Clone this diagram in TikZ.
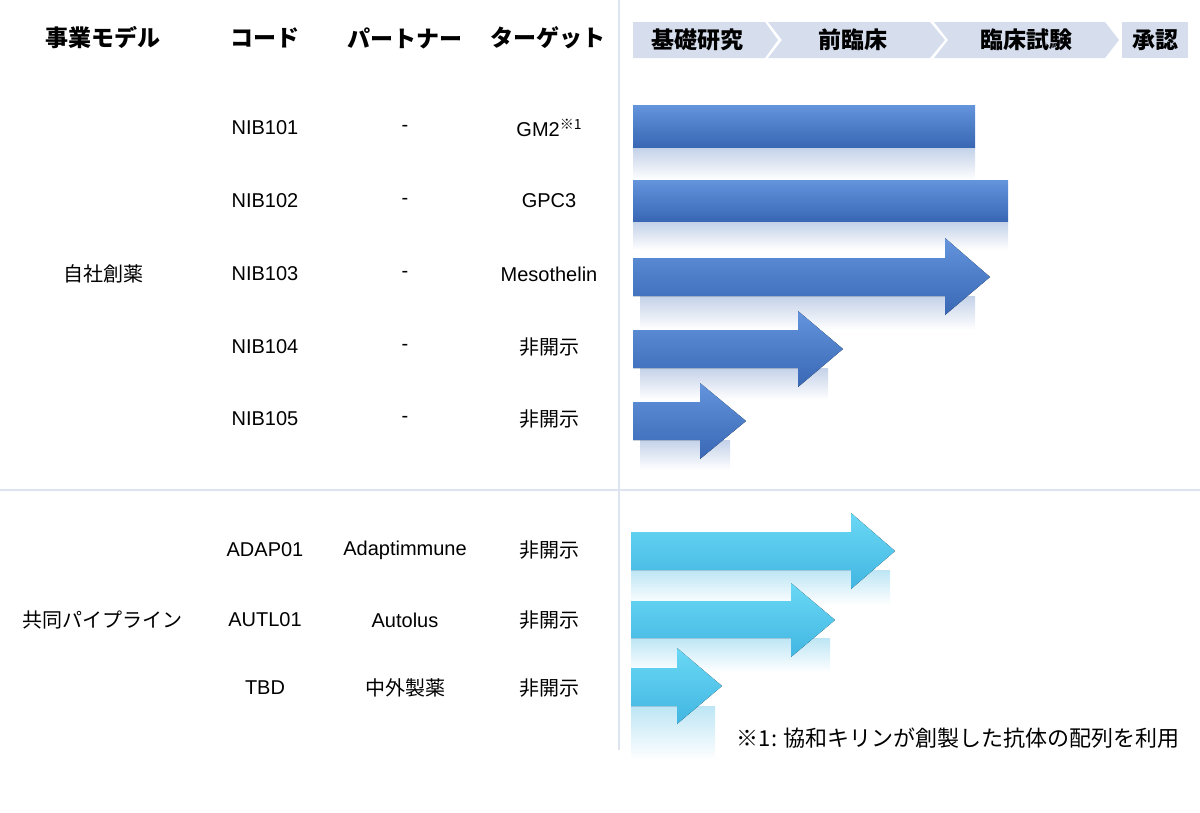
\documentclass[tikz,border=0pt]{standalone}
\usepackage{fontspec}
\setmainfont{Liberation Sans}
\newfontfamily\jp{Noto Sans CJK JP}
\usetikzlibrary{shadings}
\definecolor{phase}{HTML}{D6DEEE}
\definecolor{bluetop}{HTML}{6394DC}
\definecolor{bluebot}{HTML}{3967B4}
\definecolor{cyantop}{HTML}{6AD8F5}
\definecolor{cyanbot}{HTML}{42B6E2}
\definecolor{gridc}{HTML}{DDE3EF}
\tikzset{
  txt/.style={font=\fontsize{20}{24}\selectfont, inner sep=0pt, anchor=center},
  hdr/.style={font=\fontsize{23}{27}\selectfont\jp\bfseries, inner sep=0pt},
  ph/.style={fill=phase, draw=none},
  bluebar/.style={top color=bluetop, bottom color=bluebot, draw=none},
  cyanbar/.style={top color=cyantop, bottom color=cyanbot, draw=none},
  glowb/.style={top color=bluebot!30, bottom color=white, draw=none},
  glowc/.style={top color=cyanbot!35, bottom color=white, draw=none}
}
\begin{document}
\begin{tikzpicture}[x=1pt,y=-1pt]
\useasboundingbox (0,0) rectangle (1200,812);
% grid lines
\draw[gridc, line width=2.5pt] (619,0) -- (619,750);
\draw[gridc, line width=2pt] (0,490) -- (1200,490);
% phase header
\fill[ph] (633,22) -- (765,22) -- (778,40) -- (765,58) -- (633,58) -- cycle;
\fill[ph] (768,22) -- (930,22) -- (945,40) -- (930,58) -- (768,58) -- (782,40) -- cycle;
\fill[ph] (934,22) -- (1105,22) -- (1119,40) -- (1105,58) -- (934,58) -- (948,40) -- cycle;
\fill[ph] (1122,22) rectangle (1188,58);
\node[hdr] (p1) at (697,40) {基礎研究};
\node[hdr] (p2) at (853,40) {前臨床};
\node[hdr] (p3) at (1026,40) {臨床試験};
\node[hdr] (p4) at (1155,40) {承認};
% column headers
\node[hdr] (h1) at (103,38) {事業モデル};
\node[hdr] (h2) at (265,38) {コード};
\node[hdr] (h3) at (405,38) {パートナー};
\node[hdr] (h4) at (548,38) {ターゲット};
% rows
\node[txt] (m1) at (103,274) {\jp 自社創薬};
\node[txt] (m2) at (103,620) {\jp 共同パイプライン};
\foreach \y/\c/\p/\t [count=\i] in {128/NIB101/-/{GM2\raisebox{7pt}{\fontsize{14}{14}\selectfont\jp ※1}},201/NIB102/-/GPC3,274/NIB103/-/Mesothelin,347/NIB104/-/{\jp 非開示},419/NIB105/-/{\jp 非開示},550/ADAP01/Adaptimmune/{\jp 非開示},620/AUTL01/Autolus/{\jp 非開示},688/TBD/{\jp 中外製薬}/{\jp 非開示}}{
  \node[txt] (c\i) at (265,\y) {\c};
  \node[txt] (q\i) at (405,\y) {\p};
  \node[txt] (t\i) at (549,\y) {\t};
}
% glows
\fill[glowb] (633,148) rectangle (975,180);
\fill[glowb] (633,222) rectangle (1008,250);
\foreach \a/\b/\t in {296/975/330,368/828/400,440/730/470}{\fill[glowb] (640,\a) rectangle (\b,\t);}
\foreach \a/\b/\t in {570/890/605,638/830/672,706/715/760}{\fill[glowc] (631,\a) rectangle (\b,\t);}
% blue bars
\fill[bluebar] (633,105) rectangle (975,147);
\fill[bluebar] (633,180) rectangle (1008,221);
\fill[bluebar] (633,258) -- (945,258) -- (945,238) -- (990,277) -- (945,315) -- (945,296) -- (633,296) -- cycle;
\fill[bluebar] (633,330) -- (798,330) -- (798,311) -- (843,349) -- (798,387) -- (798,368) -- (633,368) -- cycle;
\fill[bluebar] (633,402) -- (700,402) -- (700,383) -- (746,421) -- (700,459) -- (700,440) -- (633,440) -- cycle;
% cyan arrows
\fill[cyanbar] (631,532) -- (851,532) -- (851,513) -- (895,551) -- (851,589) -- (851,570) -- (631,570) -- cycle;
\fill[cyanbar] (631,601) -- (791,601) -- (791,583) -- (835,620) -- (791,657) -- (791,638) -- (631,638) -- cycle;
\fill[cyanbar] (631,668) -- (677,668) -- (677,648) -- (722,686) -- (677,724) -- (677,706) -- (631,706) -- cycle;
% footnote
\node[txt, anchor=east, font=\fontsize{22}{26}\selectfont] (fn) at (1180,738) {\jp ※1: 協和キリンが創製した抗体の配列を利用};
\end{tikzpicture}
\end{document}
